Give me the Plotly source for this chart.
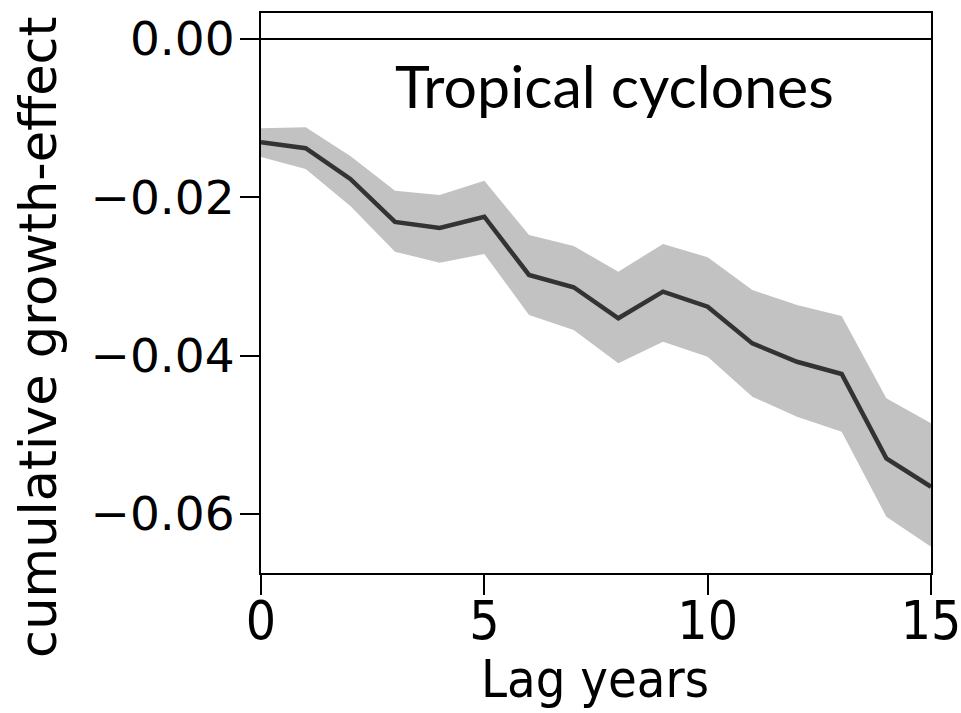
import plotly.graph_objects as go

lag_years = list(range(16))
effect = [-0.01305, -0.0138, -0.01768, -0.02311, -0.02387, -0.02245, -0.02981, -0.03136,
          -0.03528, -0.03192, -0.03382, -0.03845, -0.04077, -0.04232, -0.05297, -0.05656]
upper = [-0.01128, -0.01115, -0.01478, -0.01916, -0.01971, -0.0179, -0.02476, -0.02615,
         -0.02939, -0.02589, -0.02757, -0.0317, -0.0336, -0.035, -0.04538, -0.04854]
lower = [-0.0149, -0.01642, -0.0211, -0.02687, -0.02826, -0.02716, -0.03486, -0.03676,
         -0.04097, -0.03824, -0.04013, -0.04518, -0.04771, -0.04961, -0.06034, -0.06413]
x_ticks = [0, 5, 10, 15]
y_ticks = [0.0, -0.02, -0.04, -0.06]
y_tick_text = ["0.00", "\u22120.02", "\u22120.04", "\u22120.06"]

fig = go.Figure()
fig.add_trace(go.Scatter(x=lag_years, y=upper, mode="lines", line=dict(width=0),
                         hoverinfo="skip", showlegend=False))
fig.add_trace(go.Scatter(x=lag_years, y=lower, mode="lines", line=dict(width=0),
                         fill="tonexty", fillcolor="#c2c2c2", hoverinfo="skip", showlegend=False))
fig.add_trace(go.Scatter(x=lag_years, y=effect, mode="lines",
                         line=dict(color="#333333", width=4.5), showlegend=False))
fig.add_hline(y=0, line=dict(color="black", width=2))

fig.add_annotation(text="Tropical cyclones", x=0.527, y=0.871, xref="paper", yref="paper",
                   xanchor="center", yanchor="middle",
                   showarrow=False, font=dict(family="Lato", size=59, color="black"))
fig.add_annotation(text="Lag years", x=0.4985, y=-0.19, xref="paper", yref="paper",
                   xanchor="center", yanchor="middle", showarrow=False,
                   font=dict(family="DejaVu Sans Condensed, DejaVu Sans", size=52, color="black"))
fig.add_annotation(text="cumulative growth-effect", x=-0.333, y=0.4214, xref="paper", yref="paper",
                   xanchor="center", yanchor="middle", textangle=-90, showarrow=False,
                   font=dict(family="DejaVu Sans", size=51, color="black"))

fig.update_layout(
    width=961, height=713,
    margin=dict(l=261, r=30, t=13, b=140),
    plot_bgcolor="white", paper_bgcolor="white",
    xaxis=dict(range=[0, 15], tickvals=x_ticks, ticks="outside", ticklen=20, tickwidth=2,
               tickcolor="black", showline=True, linecolor="black", linewidth=2, mirror=True,
               showgrid=False, zeroline=False, automargin=False, ticklabelstandoff=-20,
               ticklabeloverflow="allow",
               tickfont=dict(family="DejaVu Sans Condensed, DejaVu Sans", size=53, color="black")),
    yaxis=dict(range=[-0.06745, 0.00328], tickvals=y_ticks, ticktext=y_tick_text,
               ticks="outside", ticklen=19, tickwidth=2, tickcolor="black",
               showline=True, linecolor="black", linewidth=2, mirror=True,
               showgrid=False, zeroline=False, automargin=False, ticklabelstandoff=-4,
               ticklabeloverflow="allow",
               tickfont=dict(family="DejaVu Sans", size=47, color="black")),
)

fig.write_html("out.html")
